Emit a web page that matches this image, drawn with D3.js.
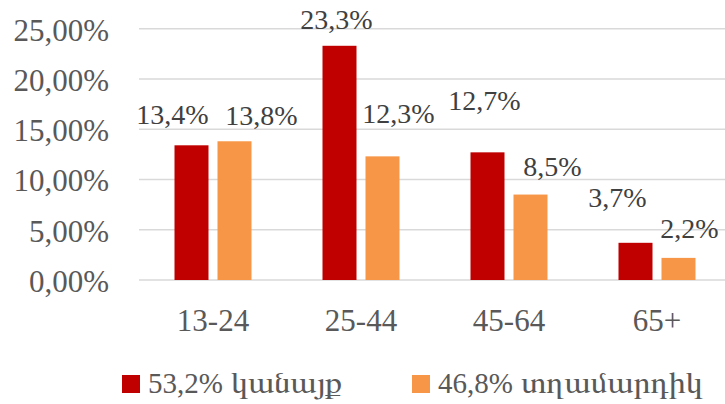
<!DOCTYPE html>
<html>
<head>
<meta charset="utf-8">
<script src="https://cdn.jsdelivr.net/npm/d3@7"></script>
</head>
<body style="margin:0">
<svg id="chart" width="725" height="404" style="display:block"></svg>
<script>
// ---- data ----
const categories = ["13-24", "25-44", "45-64", "65+"];
const seriesNames = ["53,2% կանայք", "46,8% տղամարդիկ"];
const women = [13.4, 23.3, 12.7, 3.7];
const men = [13.8, 12.3, 8.5, 2.2];
const womenLabels = ["13,4%", "23,3%", "12,7%", "3,7%"];
const menLabels = ["13,8%", "12,3%", "8,5%", "2,2%"];
const yTicks = [0, 5, 10, 15, 20, 25];
const yTickLabels = ["0,00%", "5,00%", "10,00%", "15,00%", "20,00%", "25,00%"];

// ---- layout (positions/styles only) ----
const colors = ["#C00000", "#F79646"];
const labelOffsets = [
  [[-19, -31], [27, -26]],
  [[-3, -27], [16, -43]],
  [[-3, -52], [22, -28]],
  [[-18, -46], [11, -30]]
];
const legendX = [122, 412];
const legendWordWidth = [111, 182];

const svg = d3.select("#chart");
const x0 = d3.scaleBand().domain(categories).range([139, 731]).paddingInner(0).paddingOuter(0);
const x1 = d3.scaleBand().domain([0, 1]).range([35.5, 112.5]).paddingInner(9 / 43);
const y = d3.scaleLinear().domain([0, 25]).range([280, 28.7]);

// gridlines
svg.selectAll("line.grid").data(yTicks).join("line").attr("class", "grid")
  .attr("x1", 139).attr("x2", 725)
  .attr("y1", d => y(d)).attr("y2", d => y(d))
  .attr("stroke", "#d9d9d9").attr("stroke-width", 1.5);

// bars
const seriesVals = [women, men];
const seriesLbls = [womenLabels, menLabels];
const flat = [];
categories.forEach((c, ci) => [0, 1].forEach(si => flat.push({ c, ci, si, v: seriesVals[si][ci], t: seriesLbls[si][ci] })));

svg.selectAll("rect.bar").data(flat).join("rect").attr("class", "bar")
  .attr("x", d => x0(d.c) + x1(d.si)).attr("width", x1.bandwidth())
  .attr("y", d => y(d.v)).attr("height", d => y(0) - y(d.v))
  .attr("fill", d => colors[d.si]);

// y tick labels
svg.selectAll("text.ytick").data(yTicks).join("text").attr("class", "ytick")
  .attr("x", 109).attr("y", d => y(d) + 1).attr("dy", "0.35em")
  .attr("text-anchor", "end")
  .attr("font-family", "Liberation Serif")
  .attr("fill", "#595959").attr("font-size", 31)
  .text((d, i) => yTickLabels[i]);

// x category labels
svg.selectAll("text.xcat").data(categories).join("text").attr("class", "xcat")
  .attr("x", d => x0(d) + x0.bandwidth() / 2).attr("y", 320).attr("dy", "0.35em")
  .attr("text-anchor", "middle")
  .attr("font-family", "Liberation Serif")
  .attr("fill", "#595959").attr("font-size", 31)
  .text(d => d);

// data labels
svg.selectAll("text.dl").data(flat).join("text").attr("class", "dl")
  .attr("x", d => x0(d.c) + x1(d.si) + x1.bandwidth() / 2 + labelOffsets[d.ci][d.si][0])
  .attr("y", d => y(d.v) + labelOffsets[d.ci][d.si][1]).attr("dy", "0.35em")
  .attr("text-anchor", "middle")
  .attr("font-family", "Liberation Serif")
  .attr("fill", "#404040").attr("font-size", 28)
  .text(d => d.t);

// legend
svg.selectAll("rect.lg").data(seriesNames).join("rect").attr("class", "lg")
  .attr("x", (d, i) => legendX[i]).attr("y", 375)
  .attr("width", 18).attr("height", 18).attr("fill", (d, i) => colors[i]);

seriesNames.forEach((name, i) => {
  const sp = name.indexOf(" ");
  const pct = name.slice(0, sp);
  const word = name.slice(sp + 1);
  const t1 = svg.append("text").attr("class", "lgp")
    .attr("x", legendX[i] + 26).attr("y", 393)
    .attr("font-family", "Liberation Serif")
    .attr("fill", "#595959").attr("font-size", 29)
    .text(pct);
  const w = t1.node().getComputedTextLength();
  svg.append("text").attr("class", "lgw")
    .attr("x", legendX[i] + 26 + w + 8).attr("y", 393)
    .attr("font-family", "FreeSerif")
    .attr("fill", "#595959").attr("font-size", 31)
    .attr("textLength", legendWordWidth[i]).attr("lengthAdjust", "spacingAndGlyphs")
    .text(word);
});
</script>
</body>
</html>
